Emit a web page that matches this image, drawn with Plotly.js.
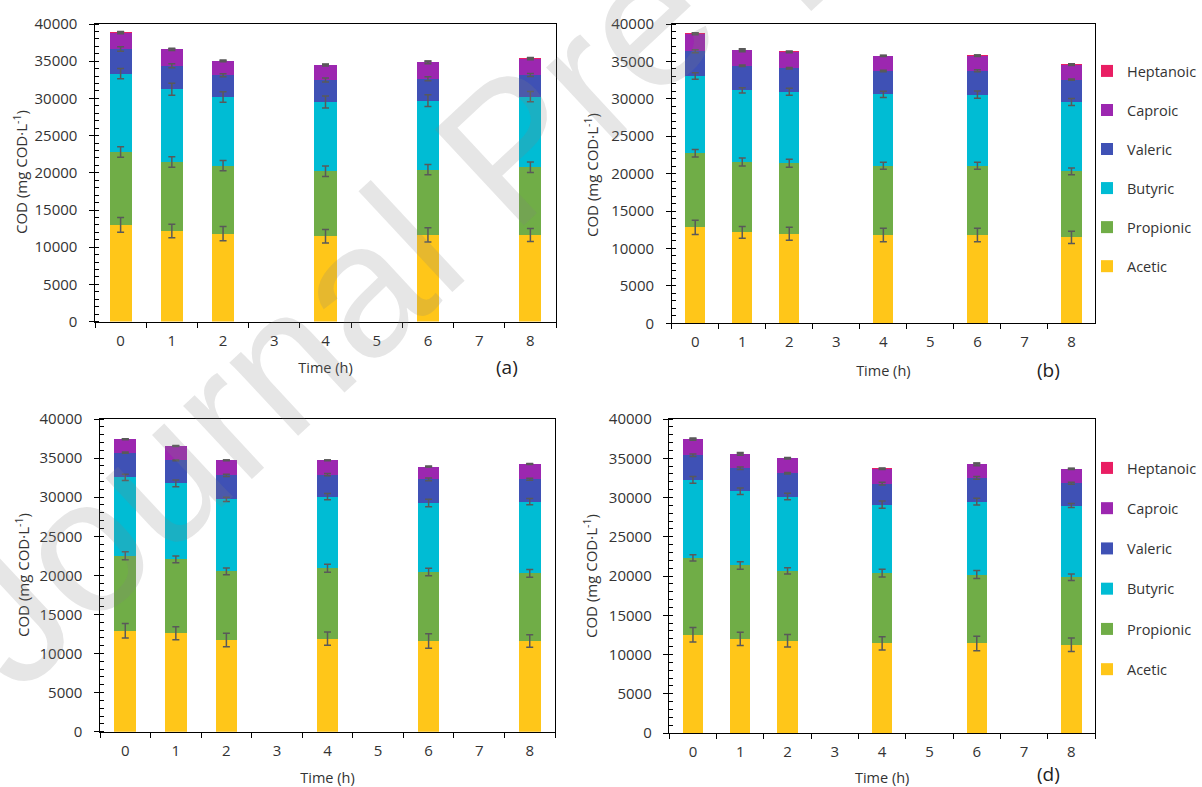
<!DOCTYPE html>
<html>
<head>
<meta charset="utf-8">
<script src="https://cdn.plot.ly/plotly-3.0.1.min.js"></script>
<style>html,body{margin:0;padding:0;background:#fff;}#chart{width:1202px;height:787px;}</style>
</head>
<body>
<div id="chart"></div>
<script>
// ---- data ----
const allTimes = ['0','1','2','3','4','5','6','7','8'];
const times = ['0','1','2','4','6','8'];
const acidNames = ['Acetic','Propionic','Butyric','Valeric','Caproic','Heptanoic'];
const acidColors = ['#FFC619','#70AD47','#00BCD4','#3F51B5','#9C27B0','#E91E63'];
const yTitle = 'COD (mg COD·L<sup>-1</sup>)';
const xTitle = 'Time (h)';

// panel (a)
const a_acetic    = [13000, 12180, 11830, 11470, 11650, 11650];
const a_propionic = [9800, 9280, 9130, 8730, 8780, 9090];
const a_butyric   = [10530, 9760, 9230, 9320, 9270, 9500];
const a_valeric   = [3310, 3180, 2910, 2950, 2950, 2910];
const a_caproic   = [2200, 2200, 1930, 2020, 2200, 2190];
const a_heptanoic = [80, 60, 60, 50, 100, 80];
const a_acetic_err    = [1000, 900, 950, 900, 950, 870];
const a_propionic_err = [700, 700, 700, 700, 700, 700];
const a_butyric_err   = [700, 800, 700, 800, 800, 700];
const a_valeric_err   = [300, 270, 200, 270, 270, 200];
const a_caproic_err   = [150, 150, 100, 150, 180, 150];
const a_heptanoic_err = [40, 30, 30, 30, 40, 40];

// panel (b)
const b_acetic    = [12830, 12160, 11980, 11800, 11800, 11490];
const b_propionic = [9890, 9400, 9400, 9270, 9270, 8820];
const b_butyric   = [10330, 9580, 9580, 9530, 9490, 9270];
const b_valeric   = [3300, 3290, 3120, 3120, 3200, 2980];
const b_caproic   = [2360, 2050, 2180, 2000, 2010, 2010];
const b_heptanoic = [60, 60, 80, 60, 60, 60];
const b_acetic_err    = [950, 780, 870, 900, 900, 820];
const b_propionic_err = [500, 530, 530, 470, 470, 450];
const b_butyric_err   = [450, 350, 470, 420, 470, 470];
const b_valeric_err   = [200, 100, 100, 100, 130, 90];
const b_caproic_err   = [130, 200, 100, 80, 100, 130];
const b_heptanoic_err = [40, 40, 30, 30, 30, 40];

// panel (c)
const c_acetic    = [12920, 12580, 11730, 11900, 11600, 11600];
const c_propionic = [9600, 9470, 8780, 9000, 8830, 8660];
const c_butyric   = [10020, 9720, 9210, 9160, 8820, 9160];
const c_valeric   = [3150, 2940, 3070, 2820, 3030, 2860];
const c_caproic   = [1710, 1840, 1920, 1830, 1620, 1960];
const c_heptanoic = [20, 20, 20, 20, 20, 20];
const c_acetic_err    = [920, 830, 850, 850, 920, 810];
const c_propionic_err = [510, 430, 430, 510, 490, 490];
const c_butyric_err   = [400, 430, 280, 400, 490, 400];
const c_valeric_err   = [85, 50, 130, 150, 170, 130];
const c_caproic_err   = [60, 60, 60, 60, 40, 60];
const c_heptanoic_err = [20, 20, 20, 20, 20, 20];

// panel (d)
const d_acetic    = [12510, 12000, 11750, 11410, 11410, 11240];
const d_propionic = [9800, 9340, 8910, 8950, 8780, 8610];
const d_butyric   = [9930, 9460, 9460, 8740, 9290, 9120];
const d_valeric   = [3140, 2920, 2970, 2670, 3010, 2840];
const d_caproic   = [2030, 1830, 1910, 1870, 1740, 1830];
const d_heptanoic = [100, 40, 40, 80, 80, 40];
const d_acetic_err    = [930, 850, 810, 850, 930, 850];
const d_propionic_err = [400, 490, 400, 490, 510, 420];
const d_butyric_err   = [420, 420, 420, 470, 420, 250];
const d_valeric_err   = [170, 150, 100, 170, 170, 130];
const d_caproic_err   = [130, 170, 80, 60, 170, 80];
const d_heptanoic_err = [50, 30, 30, 40, 40, 30];

const panels = [
  {x:'x',  y:'y',  legend:null,      vals:[a_acetic,a_propionic,a_butyric,a_valeric,a_caproic,a_heptanoic],
   errs:[a_acetic_err,a_propionic_err,a_butyric_err,a_valeric_err,a_caproic_err,a_heptanoic_err]},
  {x:'x2', y:'y2', legend:'legend',  vals:[b_acetic,b_propionic,b_butyric,b_valeric,b_caproic,b_heptanoic],
   errs:[b_acetic_err,b_propionic_err,b_butyric_err,b_valeric_err,b_caproic_err,b_heptanoic_err]},
  {x:'x3', y:'y3', legend:null,      vals:[c_acetic,c_propionic,c_butyric,c_valeric,c_caproic,c_heptanoic],
   errs:[c_acetic_err,c_propionic_err,c_butyric_err,c_valeric_err,c_caproic_err,c_heptanoic_err]},
  {x:'x4', y:'y4', legend:'legend2', vals:[d_acetic,d_propionic,d_butyric,d_valeric,d_caproic,d_heptanoic],
   errs:[d_acetic_err,d_propionic_err,d_butyric_err,d_valeric_err,d_caproic_err,d_heptanoic_err]}
];

const traces = [];
const errTraces = [];
panels.forEach(p => {
  const cum = times.map(() => 0);
  acidNames.forEach((name, i) => {
    const t = {
      type:'bar', name:name, x:times, y:p.vals[i], xaxis:p.x, yaxis:p.y,
      marker:{color:acidColors[i], line:{width:0}},
      legendgroup:name + (p.legend||''),
      legendrank: 10 - i,
      showlegend: p.legend !== null
    };
    if (p.legend) t.legend = p.legend;
    traces.push(t);
    // error bars drawn on top of the stack at each segment's cumulative top
    p.vals[i].forEach((v, k) => { cum[k] += v; });
    errTraces.push({
      type:'scatter', mode:'markers', x:times, y:cum.slice(), xaxis:p.x, yaxis:p.y,
      marker:{opacity:0, size:1}, showlegend:false, hoverinfo:'skip',
      error_y:{type:'data', array:p.errs[i], visible:true, color:'#595959', thickness:1.5, width:3.5}
    });
  });
});

const W = 1202, H = 787;
const FAM = 'Open Sans, Liberation Sans, sans-serif';
const tickFont = {family:FAM, size:15, color:'#333'};

function xax(l, r, anchor, standoff) {
  return {
    domain:[l/W, r/W], anchor:anchor, type:'category',
    categoryorder:'array', categoryarray:allTimes, range:[-0.5, 8.5],
    tickson:'boundaries', ticks:'outside', ticklen:5, tickcolor:'#000', ticklabelstandoff:5,
    showline:true, linecolor:'#000', linewidth:1, mirror:true, showgrid:false, zeroline:false,
    tickfont:tickFont,
    title:{text:xTitle, font:{family:FAM, size:14.5, color:'#333'}, standoff:standoff}
  };
}
function yax(top, bottom, anchor) {
  return {
    domain:[1 - bottom/H, 1 - top/H], anchor:anchor, range:[0, 40000],
    dtick:5000, tick0:0, tickformat:'d',
    ticksuffix:'<span style="color:rgba(0,0,0,0)">0</span>',
    ticks:'outside', ticklen:5, tickcolor:'#000',
    minor:{dtick:1000, ticks:'inside', ticklen:4, tickcolor:'#000', showgrid:false},
    showline:true, linecolor:'#000', linewidth:1, mirror:true, showgrid:false, zeroline:false,
    tickfont:tickFont
  };
}
// overlay axes that add the inner half of the crossing tick marks
function xin(base, anchor) {
  return {
    overlaying:base, anchor:anchor, side:'bottom', type:'category',
    categoryorder:'array', categoryarray:allTimes, range:[-0.5, 8.5],
    tickson:'boundaries', ticks:'inside', ticklen:4, tickcolor:'#000',
    showticklabels:false, showline:false, showgrid:false, zeroline:false
  };
}
function yin(base, anchor) {
  return {
    overlaying:base, anchor:anchor, side:'left', range:[0, 40000], dtick:5000, tick0:0,
    ticks:'inside', ticklen:5, tickcolor:'#000',
    showticklabels:false, showline:false, showgrid:false, zeroline:false
  };
}

const legendCommon = {
  traceorder:'grouped',
  font:{family:FAM, size:14.5, color:'#333'},
  bgcolor:'rgba(0,0,0,0)', borderwidth:0, itemwidth:30,
  xanchor:'right', yanchor:'top', xref:'paper', yref:'paper'
};

const labelFont = {family:FAM, size:19, color:'#222'};
const yTitleFont = {family:FAM, size:15, color:'#333'};
function yTitleAnn(px, py) {
  return {text:yTitle, xref:'paper', yref:'paper', x:px/W, y:1-py/H, xanchor:'center', yanchor:'middle',
          textangle:-90, showarrow:false, font:yTitleFont};
}

const layout = {
  width:W, height:H, margin:{l:0, r:0, t:0, b:0, autoexpand:false},
  paper_bgcolor:'#fff', plot_bgcolor:'rgba(0,0,0,0)',
  barmode:'stack', bargap:0.57,
  font:tickFont, separators:'.',
  xaxis:  xax(95, 556, 'y', 14),
  yaxis:  yax(24, 321.6, 'x'),
  xaxis2: xax(671.7, 1095, 'y2', 15),
  yaxis2: yax(24, 323.3, 'x2'),
  xaxis3: xax(100, 555, 'y3', 17),
  yaxis3: yax(419, 731.7, 'x3'),
  xaxis4: xax(669.3, 1095, 'y4', 13),
  yaxis4: yax(419, 733, 'x4'),
  xaxis5: xin('x', 'y'),   yaxis5: yin('y', 'x'),
  xaxis6: xin('x2', 'y2'), yaxis6: yin('y2', 'x2'),
  xaxis7: xin('x3', 'y3'), yaxis7: yin('y3', 'x3'),
  xaxis8: xin('x4', 'y4'), yaxis8: yin('y4', 'x4'),
  legend:  Object.assign({}, legendCommon, {x:1, y:1 - 55/H, tracegroupgap:17.2}),
  legend2: Object.assign({}, legendCommon, {x:1, y:1 - 452/H, tracegroupgap:18.4}),
  annotations:[
    yTitleAnn(20, 172), yTitleAnn(591, 175), yTitleAnn(22, 575), yTitleAnn(590, 576),
    {text:'(a)', xref:'paper', yref:'paper', x:507/W, y:1-367/H, xanchor:'center', yanchor:'middle',
     showarrow:false, font:labelFont},
    {text:'(b)', xref:'paper', yref:'paper', x:1048/W, y:1-370/H, xanchor:'center', yanchor:'middle',
     showarrow:false, font:labelFont},
    {text:'(d)', xref:'paper', yref:'paper', x:1048/W, y:1-774/H, xanchor:'center', yanchor:'middle',
     showarrow:false, font:labelFont},
    {text:'Journal Pre-proof', xref:'paper', yref:'paper', x:510/W, y:1-148/H,
     xanchor:'center', yanchor:'middle', showarrow:false, textangle:-43,
     font:{family:'Liberation Sans, Arial, sans-serif', size:190, color:'rgba(128,128,128,0.2)'}}
  ]
};

Plotly.newPlot('chart', traces.concat(errTraces), layout, {displayModeBar:false, staticPlot:true});
</script>
</body>
</html>
